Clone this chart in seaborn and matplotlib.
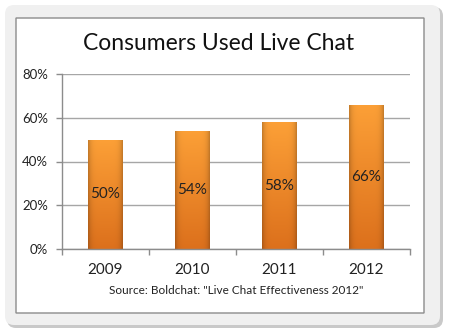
import matplotlib
matplotlib.use('Agg')
import matplotlib.pyplot as plt
import matplotlib.transforms as mtransforms
from matplotlib.patches import FancyBboxPatch
import seaborn as sns
import pandas as pd
import numpy as np

years = ['2009', '2010', '2011', '2012']
values = [50, 54, 58, 66]
title = 'Consumers Used Live Chat'
source = 'Source: Boldchat: "Live Chat Effectiveness 2012"'
yticks = [0, 20, 40, 60, 80]
ytick_labels = ['0%', '20%', '40%', '60%', '80%']

sns.set_theme(style='white')
plt.rcParams['font.family'] = ['Lato', 'DejaVu Sans']

W, H = 451, 336
fig = plt.figure(figsize=(W / 100, H / 100), dpi=100)
fig.patch.set_facecolor('white')
ident = mtransforms.IdentityTransform()


def box(x0, y0, x1, y1, r, **kw):
    p = FancyBboxPatch((x0, H - y1), x1 - x0, y1 - y0,
                       boxstyle=f'round,pad=0,rounding_size={r}',
                       transform=ident, **kw)
    fig.patches.append(p)
    return p


box(7, 7, 443, 328, 9, facecolor='#c9c9c9', edgecolor='none', zorder=0)
box(5, 5, 440, 325, 9, facecolor='#f0f0f0', edgecolor='none', zorder=1)
box(16, 18, 424, 313, 0, facecolor='white', edgecolor='#8c8c8c', linewidth=1, zorder=2)

ax = fig.add_axes([62 / W, 1 - 249 / H, (410 - 62) / W, (249 - 74) / H])
ax.set_zorder(3)
ax.patch.set_alpha(0)

df = pd.DataFrame({'year': years, 'value': values})
sns.barplot(data=df, x='year', y='value', color='#f0902c', width=0.4,
            saturation=1, ax=ax, edgecolor='none')

# gradient fill for bars
ny, nx = 200, 60
t = np.linspace(0, 1, ny)[:, None]
s = np.linspace(0, 1, nx)[None, :]
top = np.array([252, 160, 55]) / 255
bot = np.array([220, 112, 28]) / 255
base = top[None, None, :] * (1 - t[..., None]) + bot[None, None, :] * t[..., None]
edge = np.abs(s - 0.5) * 2
shade = 1 - 0.22 * edge ** 6
img = base * shade[..., None]
img = np.clip(img, 0, 1)
for p in ax.patches:
    x0, y0, w, h = p.get_x(), p.get_y(), p.get_width(), p.get_height()
    im = ax.imshow(img, extent=[x0, x0 + w, y0, y0 + h], aspect='auto',
                   origin='upper', zorder=p.get_zorder() + 0.1, interpolation='bilinear')
    im.set_clip_path(p)

for i, v in enumerate(values):
    ax.text(i, v / 2, f'{v}%', ha='center', va='center', fontsize=11,
            color='#222222', zorder=5)

ax.set_xlim(-0.5, 3.5)
ax.set_ylim(0, 80)
ax.set_yticks(yticks)
ax.set_yticklabels(ytick_labels)
ax.set_xlabel('')
ax.set_ylabel('')
ax.yaxis.grid(True, color='#a6a6a6', linewidth=1)
ax.set_axisbelow(True)
for sp in ['top', 'right']:
    ax.spines[sp].set_visible(False)
for sp in ['left', 'bottom']:
    ax.spines[sp].set_color('#8c8c8c')
    ax.spines[sp].set_linewidth(1)
ax.tick_params(axis='y', left=True, length=4, width=1, color='#8c8c8c',
               direction='out', pad=6, labelsize=9.5, labelcolor='#222222')
ax.tick_params(axis='x', which='major', bottom=False, length=0, pad=10,
               labelsize=11, labelcolor='#222222')
ax.set_xticks([-0.5, 0.5, 1.5, 2.5, 3.5], minor=True)
ax.tick_params(axis='x', which='minor', bottom=True, length=4, width=1,
               color='#8c8c8c', direction='out')

fig.text(219 / W, 1 - 44 / H, title, ha='center', va='center', fontsize=16.5,
         fontweight='normal', color='#111111')
fig.text(236 / W, 1 - 290 / H, source, ha='center', va='center', fontsize=8.5,
         color='#222222')

fig.savefig('out.png', dpi=100)
